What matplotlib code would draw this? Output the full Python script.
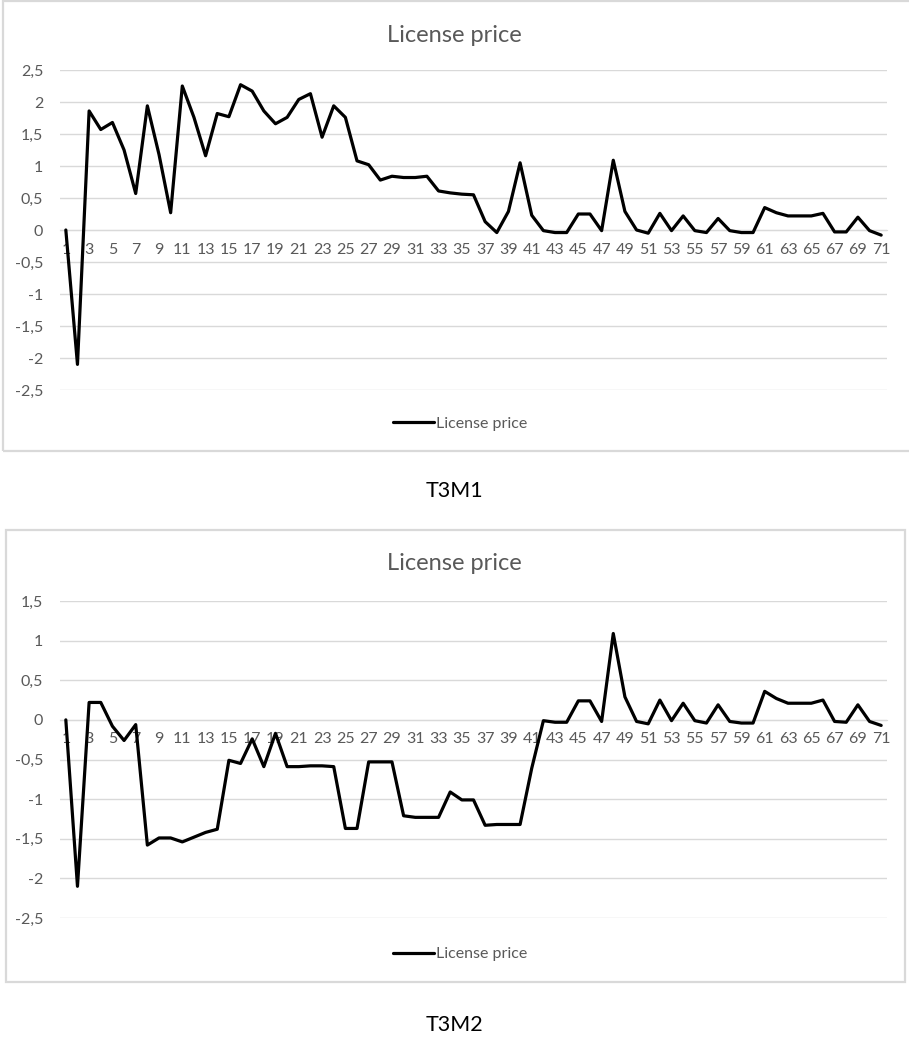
import matplotlib
import numpy as np

matplotlib.use("Agg")
import matplotlib.pyplot as plt  # noqa: E402
from matplotlib.patches import Rectangle  # noqa: E402

plt.rcParams["font.family"] = ["Lato", "DejaVu Sans"]

periods = list(range(1, 72))

t3m1_price = [0, -2.1, 1.86, 1.57, 1.68, 1.25, 0.57, 1.94, 1.18, 0.27,
              2.25, 1.76, 1.16, 1.82, 1.77, 2.27, 2.17, 1.86, 1.66, 1.76,
              2.04, 2.13, 1.45, 1.94, 1.76, 1.08, 1.02, 0.78, 0.84, 0.82,
              0.82, 0.84, 0.61, 0.58, 0.56, 0.55, 0.13, -0.04, 0.29, 1.05,
              0.23, -0.01, -0.04, -0.04, 0.25, 0.25, -0.01, 1.09, 0.29, 0.0,
              -0.05, 0.26, -0.01, 0.22, -0.01, -0.04, 0.18, -0.01, -0.04, -0.04,
              0.35, 0.27, 0.22, 0.22, 0.22, 0.26, -0.03, -0.03, 0.20, -0.01,
              -0.08]

t3m2_price = [0, -2.1, 0.22, 0.22, -0.08, -0.26, -0.06, -1.58, -1.49, -1.49,
              -1.54, -1.48, -1.42, -1.38, -0.51, -0.55, -0.24, -0.59, -0.17, -0.59,
              -0.59, -0.58, -0.58, -0.59, -1.37, -1.37, -0.53, -0.53, -0.53, -1.21,
              -1.23, -1.23, -1.23, -0.91, -1.01, -1.01, -1.33, -1.32, -1.32, -1.32,
              -0.61, -0.01, -0.03, -0.03, 0.24, 0.24, -0.02, 1.09, 0.29, -0.02,
              -0.05, 0.25, -0.01, 0.21, -0.01, -0.04, 0.19, -0.02, -0.04, -0.04,
              0.36, 0.27, 0.21, 0.21, 0.21, 0.25, -0.02, -0.03, 0.19, -0.02,
              -0.07]

t3m1_yticks = [2.5, 2, 1.5, 1, 0.5, 0, -0.5, -1, -1.5, -2, -2.5]
t3m2_yticks = [1.5, 1, 0.5, 0, -0.5, -1, -1.5, -2, -2.5]

GRID = "#d9d9d9"
TEXT = "#595959"
W, H = 909, 1038


def fx(px):
    return px / W


def fy(py):
    return 1 - py / H


def comma(v):
    s = f"{v:g}"
    return s.replace(".", ",")


def draw_panel(fig, box, plot_px, values, yticks, title_y, legend_y, caption, caption_y):
    # outer chart border
    x0, y0, x1, y1 = box
    fig.add_artist(Rectangle((fx(x0), fy(y1)), fx(x1 - x0), (y1 - y0) / H,
                             transform=fig.transFigure, fill=False,
                             edgecolor=GRID, lw=1.6))

    left, top, right, bottom = plot_px
    ax = fig.add_axes([fx(left), fy(bottom), fx(right - left), (bottom - top) / H])
    ax.plot(periods, values, color="black", lw=2.3, solid_joinstyle="round",
            solid_capstyle="round", label="License price", zorder=3)

    ax.set_xlim(0.5, 71.5)
    ax.set_ylim(min(yticks), max(yticks))
    ax.set_yticks(yticks)
    ax.set_yticklabels([comma(v) for v in yticks])
    ax.set_xticks(periods[::2])
    ax.set_xticklabels([str(p) for p in periods[::2]])
    ax.grid(axis="y", color=GRID, lw=1.0)
    ax.set_axisbelow(True)
    for side in ("left", "right", "top"):
        ax.spines[side].set_visible(False)
    ax.spines["bottom"].set_position(("data", 0))
    ax.spines["bottom"].set_color(GRID)
    ax.tick_params(axis="both", length=0, colors=TEXT, labelsize=11.5)
    ax.tick_params(axis="y", pad=12)
    ax.tick_params(axis="x", pad=9)

    fig.text(0.5, fy(title_y), "License price", ha="center", va="center",
             fontsize=17, color=TEXT)
    fig.legend(handles=ax.get_lines(), loc="center",
               bbox_to_anchor=(fx(460), fy(legend_y)), frameon=False,
               fontsize=11.5, labelcolor=TEXT, handlelength=2.6,
               handletextpad=0.1)
    fig.text(0.5, fy(caption_y), caption, ha="center", va="center",
             fontsize=15.5, color="black")
    return ax


fig = plt.figure(figsize=(W / 100, H / 100), dpi=100)

draw_panel(fig, (3, 1, 912, 451), (60, 70, 887, 390), t3m1_price, t3m1_yticks,
           36, 424, "T3M1", 491)
draw_panel(fig, (6, 530, 905, 982), (60, 601, 887, 918), t3m2_price, t3m2_yticks,
           564, 954, "T3M2", 1025)

fig.savefig("out.png", dpi=100)
